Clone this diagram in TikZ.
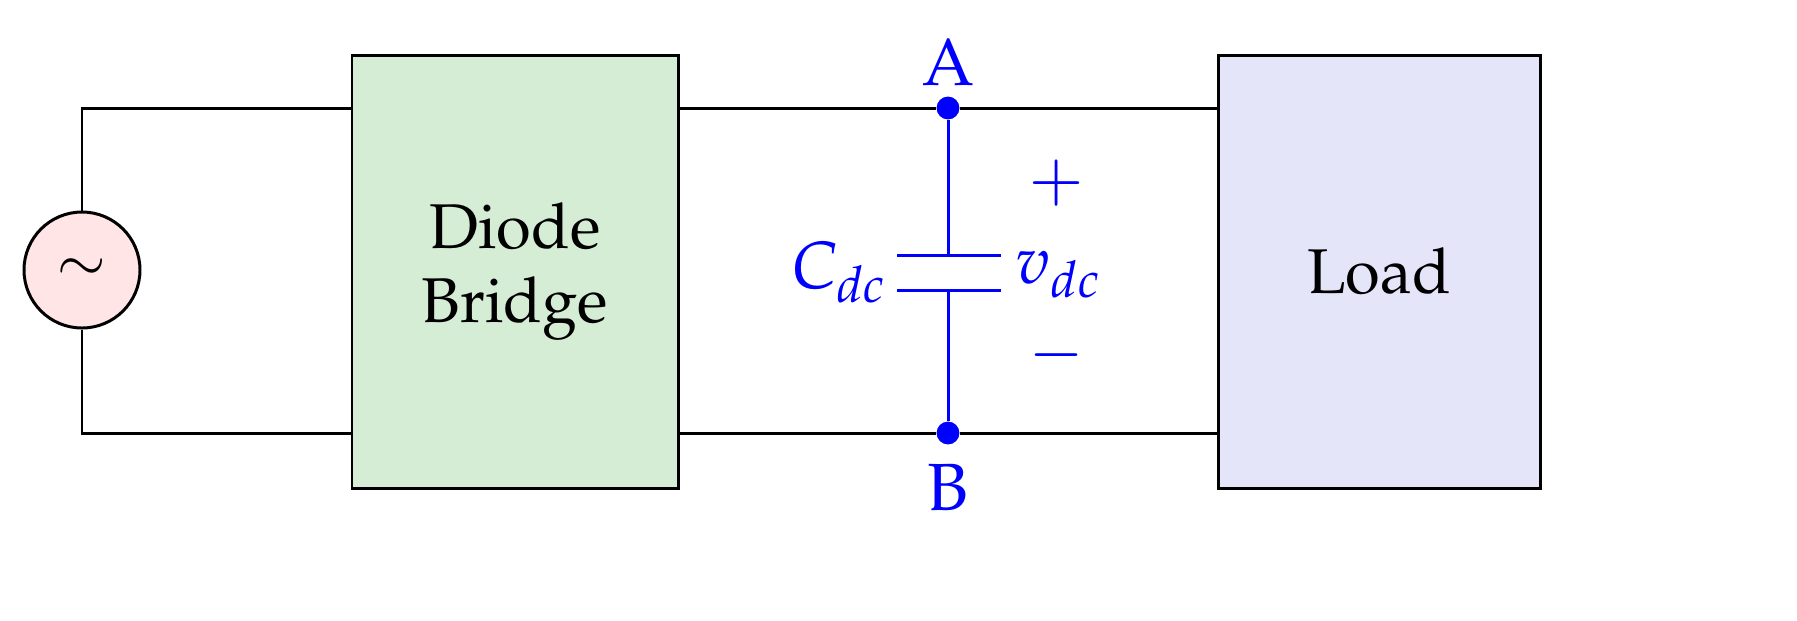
\documentclass[tikz,border=0pt]{standalone}
\usepackage[T1]{fontenc}
\usepackage{mathpazo}
\begin{document}
\begin{tikzpicture}[x=0.02cm,y=-0.02cm,
  wire/.style={line width=1.7pt,black},
  bw/.style={line width=1.7pt,blue},
  box/.style={draw,line width=1.7pt,minimum width=326*0.02cm,minimum height=433*0.02cm,font=\fontsize{36}{42}\selectfont,align=center},
  lbl/.style={blue,font=\fontsize{38}{42}\selectfont,inner sep=1pt},
  dot/.style={circle,fill=blue,inner sep=0pt,minimum size=13pt}]
\useasboundingbox (0,0) rectangle (1797,620);
\node[circle,draw,line width=1.7pt,fill=red!10,minimum size=116*0.02cm,inner sep=0pt,font=\fontsize{34}{40}\selectfont] (src) at (82,270) {$\sim$};
\node[box,fill={rgb,255:red,213;green,236;blue,213}] (db) at (515,271.5) {Diode\\Bridge};
\node[box,minimum width=322*0.02cm,fill={rgb,255:red,229;green,229;blue,250}] (ld) at (1379,271.5) {Load};
\coordinate (tl) at (82,108); \coordinate (bl) at (82,433);
\node[dot] (A) at (948,108) {}; \node[dot] (B) at (948,433) {};
\draw[wire] (src.north) -- (tl) -- (db.west|-tl);
\draw[wire] (src.south) -- (bl) -- (db.west|-bl);
\draw[wire] (db.east|-tl) -- (A) -- (ld.west|-tl);
\draw[wire] (db.east|-bl) -- (B) -- (ld.west|-bl);
\coordinate (p1) at (948,255); \coordinate (p2) at (948,290);
\draw[bw] (A) -- (p1); \draw[bw] (p2) -- (B);
\draw[bw] (897,255) -- (1001,255);
\draw[bw] (897,290) -- (1001,290);
\node[lbl,anchor=south] (la) at (948,88) {A};
\node[lbl] (lb) at (948,487) {B};
\node[lbl,anchor=east] (lc) at (888,272) {$C_{dc}$};
\node[lbl,anchor=west] (lv) at (1014,275) {$v_{dc}$};
\node[lbl] (lp) at (1057,183) {$+$};
\node[lbl] (lm) at (1057,355) {$-$};
\end{tikzpicture}
\end{document}
